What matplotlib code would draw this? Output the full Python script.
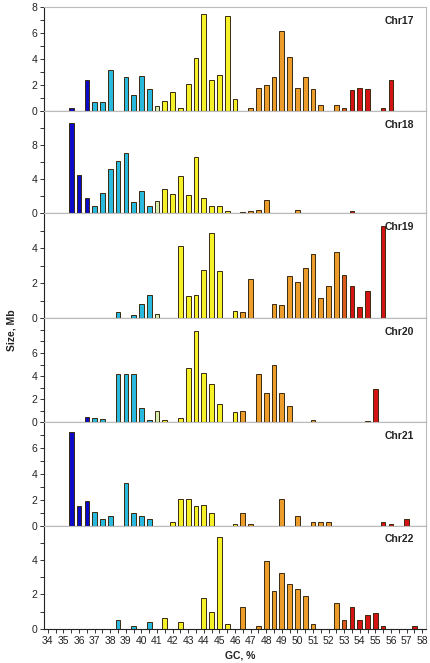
import matplotlib
matplotlib.use("Agg")
import matplotlib.pyplot as plt
from matplotlib.ticker import FixedLocator, MultipleLocator

plt.rcParams['font.family'] = ['Liberation Sans', 'DejaVu Sans']

# ---------------- data (GC %, size Mb) ----------------
chr17_gc = [35.5, 36.5, 37.0, 37.5, 38.0, 39.0, 39.5, 40.0, 40.5, 41.0, 41.5, 42.0, 42.5, 43.0, 43.5, 44.0, 44.5,
            45.0, 45.5, 46.0, 47.0, 47.5, 48.0, 48.5, 49.0, 49.5, 50.0, 50.5, 51.0, 51.5, 52.5, 53.0, 53.5, 54.0,
            54.5, 55.5, 56.0]
chr17_mb = [0.2, 2.4, 0.7, 0.7, 3.2, 2.6, 1.2, 2.7, 1.7, 0.4, 0.8, 1.5, 0.2, 2.1, 4.1, 7.5, 2.4,
            2.8, 7.3, 0.9, 0.2, 1.8, 2.0, 2.6, 6.2, 4.2, 1.8, 2.6, 1.7, 0.5, 0.5, 0.2, 1.6, 1.8,
            1.7, 0.2, 2.4]

chr18_gc = [35.5, 36.0, 36.5, 37.0, 37.5, 38.0, 38.5, 39.0, 39.5, 40.0, 40.5, 41.0, 41.5, 42.0, 42.5, 43.0, 43.5,
            44.0, 44.5, 45.0, 45.5, 46.5, 47.0, 47.5, 48.0, 50.0, 53.5]
chr18_mb = [10.6, 4.5, 1.8, 0.9, 2.4, 5.2, 6.1, 7.1, 1.3, 2.6, 0.8, 1.4, 2.9, 2.3, 4.35, 2.2, 6.6,
            1.8, 0.9, 0.9, 0.25, 0.12, 0.3, 0.4, 1.6, 0.4, 0.3]

chr19_gc = [38.5, 39.5, 40.0, 40.5, 41.0, 42.5, 43.0, 43.5, 44.0, 44.5, 45.0, 46.0, 46.5, 47.0, 48.5, 49.0, 49.5,
            50.0, 50.5, 51.0, 51.5, 52.0, 52.5, 53.0, 53.5, 54.0, 54.5, 55.5]
chr19_mb = [0.37, 0.17, 0.83, 1.33, 0.23, 4.15, 1.25, 1.33, 2.76, 4.87, 2.68, 0.44, 0.35, 2.26, 0.83, 0.75, 2.39,
            2.05, 2.86, 3.65, 1.16, 1.86, 3.77, 2.47, 1.83, 0.66, 1.58, 5.3]

chr20_gc = [36.5, 37.0, 37.5, 38.5, 39.0, 39.5, 40.0, 40.5, 41.0, 41.5, 42.5, 43.0, 43.5, 44.0, 44.5, 45.0, 46.0,
            46.5, 47.5, 48.0, 48.5, 49.0, 49.5, 51.0, 54.5, 55.0]
chr20_mb = [0.49, 0.35, 0.29, 4.22, 4.22, 4.22, 1.24, 0.2, 1.0, 0.2, 0.37, 4.72, 7.94, 4.23, 3.33, 1.62, 0.87,
            1.0, 4.17, 2.52, 4.92, 2.52, 1.44, 0.2, 0.15, 2.9]

chr21_gc = [35.5, 36.0, 36.5, 37.0, 37.5, 38.0, 39.0, 39.5, 40.0, 40.5, 42.0, 42.5, 43.0, 43.5, 44.0, 44.5, 46.0,
            46.5, 47.0, 49.0, 50.0, 51.0, 51.5, 52.0, 55.5, 56.0, 57.0]
chr21_mb = [7.25, 1.53, 1.94, 1.04, 0.5, 0.78, 3.28, 0.98, 0.72, 0.54, 0.26, 2.07, 2.07, 1.53, 1.58, 0.98, 0.16,
            1.01, 0.16, 2.07, 0.72, 0.26, 0.26, 0.26, 0.31, 0.16, 0.5]

chr22_gc = [38.5, 39.5, 40.5, 41.5, 42.5, 44.0, 44.5, 45.0, 45.5, 46.5, 47.5, 48.0, 48.5, 49.0, 49.5, 50.0, 50.5,
            51.0, 52.5, 53.0, 53.5, 54.0, 54.5, 55.0, 55.5, 57.5]
chr22_mb = [0.49, 0.18, 0.39, 0.6, 0.39, 1.8, 1.0, 5.32, 0.3, 1.29, 0.18, 3.92, 2.18, 3.22, 2.61, 2.3, 1.91,
            0.29, 1.5, 0.49, 1.27, 0.49, 0.78, 0.9, 0.18, 0.18]

chrom_names = ["Chr17", "Chr18", "Chr19", "Chr20", "Chr21", "Chr22"]
gc_lists = [chr17_gc, chr18_gc, chr19_gc, chr20_gc, chr21_gc, chr22_gc]
mb_lists = [chr17_mb, chr18_mb, chr19_mb, chr20_mb, chr21_mb, chr22_mb]

x_tick_labels = [str(v) for v in range(34, 59)]

# ---------------- styling ----------------
def bar_color(gc):
    if gc < 37.0:
        return "#0a0ac8"
    if gc < 41.0:
        return "#29b9de"
    if gc < 41.5:
        return "#d6efb0"
    if gc < 46.5:
        return "#f5f22a"
    if gc < 53.0:
        return "#ec9c2a"
    if gc < 53.5:
        return "#dc5a1e"
    return "#d41414"

# (ylim top, tick step, labelled ticks)
y_setup = [
    (8, 1, [0, 2, 4, 6, 8]),
    (12, 2, [0, 4, 8]),
    (6, 1, [0, 2, 4]),
    (9, 1, [0, 2, 4, 6]),
    (8, 1, [0, 2, 4, 6]),
    (6, 1, [0, 2, 4]),
]

fig = plt.figure(figsize=(4.30, 6.63), dpi=100)
left, right = 44 / 430, 426 / 430
tops_px = [7.3, 111, 213.3, 318.3, 422.3, 525.7, 628.7]
H = 663

axes = []
for i in range(6):
    y0 = 1 - tops_px[i + 1] / H
    y1 = 1 - tops_px[i] / H
    ax = fig.add_axes([left, y0, right - left, y1 - y0])
    axes.append(ax)
    gcs, mbs = gc_lists[i], mb_lists[i]
    ax.bar(gcs, mbs, width=0.3, color=[bar_color(g) for g in gcs],
           edgecolor="#3a2a10", linewidth=0.7, zorder=3)
    ax.set_xlim(33.75, 58.25)
    top, step, lab = y_setup[i]
    ax.set_ylim(0, top)
    ticks = list(range(0, top + 1, step))
    ax.set_yticks(ticks)
    ax.set_yticklabels([str(t) if t in lab else "" for t in ticks], fontsize=7.5)
    ax.xaxis.set_major_locator(FixedLocator(list(range(34, 59))))
    ax.xaxis.set_minor_locator(MultipleLocator(0.5))
    if i == 5:
        ax.set_xticklabels(x_tick_labels, fontsize=7.5)
    else:
        ax.set_xticklabels([])
    ax.tick_params(axis="both", which="both", direction="out", length=3, width=0.7,
                   color="#333333", pad=2, labelcolor="#222222")
    for s in ("top", "right"):
        ax.spines[s].set_color("#bbbbbb")
        ax.spines[s].set_linewidth(0.8)
    for s in ("left", "bottom"):
        ax.spines[s].set_color("#222222")
        ax.spines[s].set_linewidth(0.8)
    ax.spines["bottom"].set_zorder(5)
    ax.text((399 - 44) / (426 - 44), 1 - 13.5 / (tops_px[i + 1] - tops_px[i]), chrom_names[i],
            transform=ax.transAxes, ha="center", va="center", fontsize=7.5, fontweight="bold",
            color="#222222")

fig.text(240 / 430, 1 - 655 / H, "GC, %", ha="center", va="center",
         fontsize=7.5, fontweight="bold", color="#222222")
fig.text(12 / 430, 1 - 330 / H, "Size, Mb", rotation=90, ha="center", va="center",
         fontsize=7.5, fontweight="bold", color="#222222")

fig.savefig("out.png", dpi=100)
